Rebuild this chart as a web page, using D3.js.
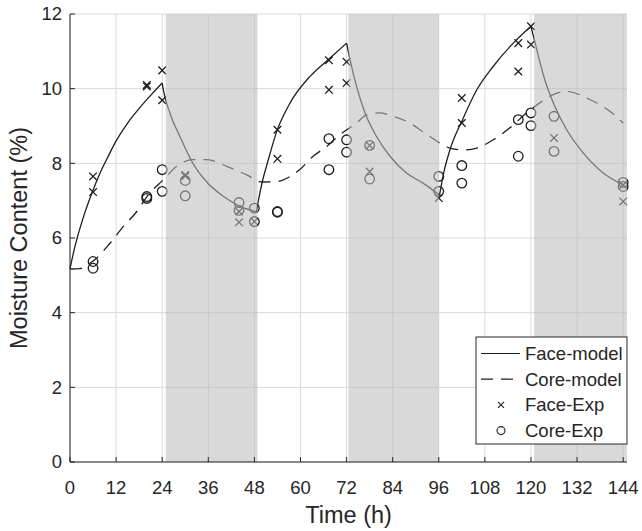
<!DOCTYPE html>
<html>
<head>
<meta charset="utf-8">
<script src="https://cdn.jsdelivr.net/npm/d3@7"></script>
<style>
  html, body { margin: 0; padding: 0; background: #fff; }
  text { font-family: "Liberation Sans", Arial, sans-serif; fill: #262626; }
</style>
</head>
<body>
<div id="chart"></div>
<script>
// model curves: [time (h), moisture (%)]
const faceModel = [
  [0, 5.17], [1, 5.65], [2, 6.05], [3, 6.4], [4, 6.72], [6, 7.28], [8, 7.78], [10, 8.2], [12, 8.6], [15, 9.08],
  [18, 9.47], [21, 9.82], [24, 10.15],
  [24.3, 9.97], [26, 9.35], [28.6, 8.72], [32, 8.0], [35.6, 7.5], [40, 7.11], [44, 6.86], [48.5, 6.7],
  [49, 6.98], [50, 7.48], [51.5, 8.05], [53.8, 8.85], [57.3, 9.62], [62.5, 10.33], [67.7, 10.82], [72, 11.22],
  [72.9, 10.78], [74.6, 10.06], [76.8, 9.35], [79.8, 8.72], [83.3, 8.19], [87.6, 7.74], [91.9, 7.47], [96.2, 7.15],
  [97.3, 7.75], [98.9, 8.36], [102.2, 9.17], [105.9, 9.97], [110.2, 10.6], [115.4, 11.22], [120, 11.67],
  [121.5, 11.05], [123.6, 10.24], [126.2, 9.53], [129.3, 8.9], [133.6, 8.28], [138.8, 7.74], [144, 7.42]
];
const coreModel = [
  [0, 5.17], [2.5, 5.18], [4.5, 5.28], [6.9, 5.46], [10.4, 5.86], [13.9, 6.31], [17.4, 6.71], [20.4, 7.16],
  [24.3, 7.56], [27.8, 7.92], [32, 8.1], [35.6, 8.1], [40.8, 7.92], [46, 7.69], [50, 7.5], [53.8, 7.51],
  [57.3, 7.65], [60, 7.85], [63.3, 8.19], [66.8, 8.45], [70.3, 8.77], [74.6, 9.08], [77.2, 9.3], [80.5, 9.35],
  [84.1, 9.26], [88.5, 9.08], [91.1, 8.9], [93.7, 8.72], [96.3, 8.54], [98.9, 8.41], [102.4, 8.36], [105.9, 8.41],
  [110.2, 8.63], [114.5, 8.95], [118.9, 9.35], [122.3, 9.62], [126.7, 9.88], [129, 9.93], [135.3, 9.71],
  [140.6, 9.39], [144, 9.08]
];
// experimental points
const faceExp = [
  [6, 7.65], [6, 7.23], [20, 10.1], [20, 10.06], [24, 10.49], [24, 9.69], [30, 7.69], [30, 7.66],
  [44, 6.71], [44, 6.42], [48, 6.44], [54, 8.9], [54, 8.12], [67.4, 10.76], [67.4, 9.97], [72, 10.72], [72, 10.15],
  [78, 8.48], [78, 7.78], [96, 7.07], [102, 9.75], [102, 9.08], [116.7, 11.22], [116.7, 10.46],
  [120, 11.18], [120, 11.67], [126, 8.68], [144, 7.42], [144, 6.98]
];
const coreExp = [
  [6, 5.37], [6, 5.19], [20, 7.11], [20, 7.06], [24, 7.83], [24, 7.25], [30, 7.54], [30, 7.13],
  [44, 6.95], [44, 6.74], [48, 6.8], [48, 6.44], [54, 6.71], [54, 6.69], [67.4, 8.66], [67.4, 7.83],
  [72, 8.63], [72, 8.3], [78, 8.48], [78, 7.58], [96, 7.65], [96, 7.25], [102, 7.94], [102, 7.47],
  [116.7, 9.17], [116.7, 8.19], [120, 9.35], [120, 9.01], [126, 9.26], [126, 8.32], [144, 7.49], [144, 7.38]
];
// shaded (drying) periods
const bands = [[24.9, 48.8], [72.5, 96], [120.8, 145]];
const xTicks = d3.range(0, 145, 12);
const yTicks = d3.range(0, 13, 2);
const legendItems = ["Face-model", "Core-model", "Face-Exp", "Core-Exp"];

const width = 642, height = 531;
const pLeft = 70, pRight = 627, pTop = 14, pBottom = 462;
const ink = "#1f1f1f";

const svg = d3.select("#chart").append("svg")
  .attr("width", width).attr("height", height);

const x = d3.scaleLinear().domain([0, 145]).range([pLeft, pRight]);
const y = d3.scaleLinear().domain([0, 12]).range([pBottom, pTop]);

// grid
svg.append("g").selectAll("line").data(xTicks).join("line")
  .attr("x1", d => x(d)).attr("x2", d => x(d)).attr("y1", pTop).attr("y2", pBottom)
  .attr("stroke", "#dadada").attr("stroke-width", 1);
svg.append("g").selectAll("line").data(yTicks).join("line")
  .attr("x1", pLeft).attr("x2", pRight).attr("y1", d => y(d)).attr("y2", d => y(d))
  .attr("stroke", "#dadada").attr("stroke-width", 1);

// split the face curve at its peaks/troughs so the cusps stay sharp
const segments = [];
let seg = [faceModel[0]];
for (let i = 1; i < faceModel.length; i++) {
  seg.push(faceModel[i]);
  const next = faceModel[i + 1];
  if (next && Math.sign(next[1] - faceModel[i][1]) !== Math.sign(faceModel[i][1] - faceModel[i - 1][1])) {
    segments.push(seg);
    seg = [faceModel[i]];
  }
}
segments.push(seg);

const line = d3.line().x(d => x(d[0])).y(d => y(d[1])).curve(d3.curveMonotoneX);

svg.append("g").selectAll("path").data(segments).join("path")
  .attr("d", line).attr("fill", "none").attr("stroke", ink).attr("stroke-width", 1.3);

svg.append("path").datum(coreModel)
  .attr("d", line).attr("fill", "none").attr("stroke", ink)
  .attr("stroke-width", 1.3).attr("stroke-dasharray", "12,8");

// markers
const cross = s => `M${-s},${-s}L${s},${s}M${-s},${s}L${s},${-s}`;
svg.append("g").selectAll("path").data(faceExp).join("path")
  .attr("d", cross(3.8))
  .attr("transform", d => `translate(${x(d[0])},${y(d[1])})`)
  .attr("fill", "none").attr("stroke", ink).attr("stroke-width", 1.3);
svg.append("g").selectAll("circle").data(coreExp).join("circle")
  .attr("cx", d => x(d[0])).attr("cy", d => y(d[1])).attr("r", 4.8)
  .attr("fill", "none").attr("stroke", ink).attr("stroke-width", 1.3);

// translucent gray patches over the drying periods
svg.append("g").selectAll("rect").data(bands).join("rect")
  .attr("x", d => x(d[0])).attr("width", d => x(d[1]) - x(d[0]))
  .attr("y", pTop).attr("height", pBottom - pTop)
  .attr("fill", "#bcbcbc").attr("fill-opacity", 0.57);

// axes (left and bottom only, ticks inward)
const axisG = svg.append("g");
axisG.append("line").attr("x1", pLeft).attr("x2", pRight).attr("y1", pBottom).attr("y2", pBottom)
  .attr("stroke", "#262626");
axisG.append("line").attr("x1", pLeft).attr("x2", pLeft).attr("y1", pTop).attr("y2", pBottom)
  .attr("stroke", "#262626");
axisG.selectAll(".xt").data(xTicks).join("line").attr("class", "xt")
  .attr("x1", d => x(d)).attr("x2", d => x(d)).attr("y1", pBottom).attr("y2", pBottom - 5)
  .attr("stroke", "#262626");
axisG.selectAll(".yt").data(yTicks).join("line").attr("class", "yt")
  .attr("x1", pLeft).attr("x2", pLeft + 5).attr("y1", d => y(d)).attr("y2", d => y(d))
  .attr("stroke", "#262626");
axisG.selectAll(".xl").data(xTicks).join("text").attr("class", "xl")
  .attr("x", d => x(d)).attr("y", 494).attr("text-anchor", "middle")
  .attr("font-size", 18.5).text(d => d);
axisG.selectAll(".yl").data(yTicks).join("text").attr("class", "yl")
  .attr("x", 62).attr("y", d => y(d)).attr("dy", "0.35em").attr("text-anchor", "end")
  .attr("font-size", 18.5).text(d => d);

svg.append("text").attr("x", (pLeft + x(144)) / 2 + 2).attr("y", 523)
  .attr("text-anchor", "middle").attr("font-size", 23.5).text("Time (h)");
svg.append("text").attr("transform", `translate(27,${(pTop + pBottom) / 2}) rotate(-90)`)
  .attr("text-anchor", "middle").attr("font-size", 23.5).text("Moisture Content (%)");

// legend
const lg = svg.append("g");
lg.append("rect").attr("x", 476).attr("y", 337).attr("width", 151).attr("height", 107)
  .attr("fill", "#fff").attr("stroke", "#262626");
legendItems.forEach((name, i) => {
  const cy = 353.5 + i * 25.7;
  if (i === 0 || i === 1) {
    lg.append("line").attr("x1", 481).attr("x2", 520).attr("y1", cy).attr("y2", cy)
      .attr("stroke", ink).attr("stroke-width", 1.2)
      .attr("stroke-dasharray", i === 1 ? "12,8" : null);
  } else if (i === 2) {
    lg.append("path").attr("d", cross(3)).attr("transform", `translate(501,${cy})`)
      .attr("fill", "none").attr("stroke", ink).attr("stroke-width", 1.1);
  } else {
    lg.append("circle").attr("cx", 501).attr("cy", cy).attr("r", 4)
      .attr("fill", "none").attr("stroke", ink).attr("stroke-width", 1.1);
  }
  lg.append("text").attr("x", 525).attr("y", cy).attr("dy", "0.35em")
    .attr("font-size", 18.5).text(name);
});
</script>
</body>
</html>
